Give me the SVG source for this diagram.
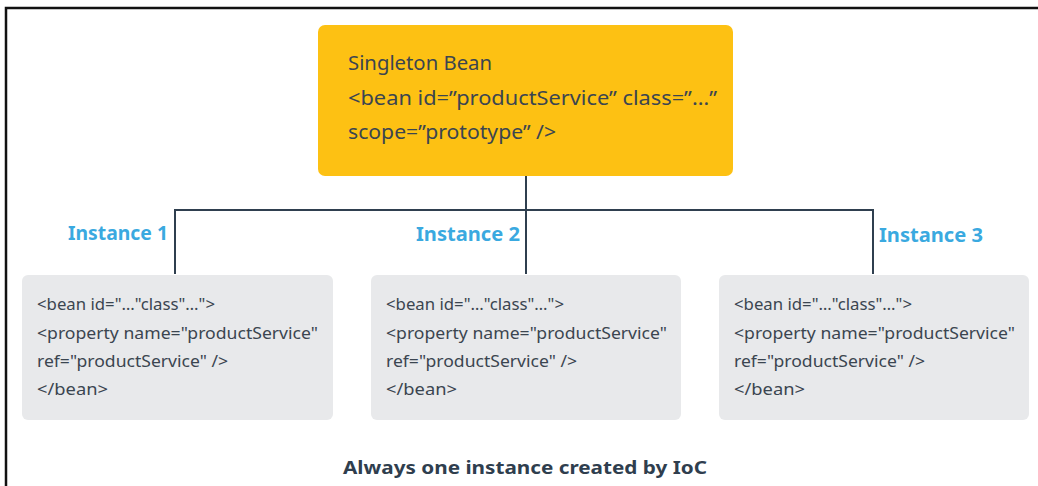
<svg xmlns="http://www.w3.org/2000/svg" width="1038" height="486" viewBox="0 0 1038 486">
<style>
.frame{fill:none;stroke:#111;stroke-width:2.5}
.top{fill:#fdc113}
.inst{fill:#e8e9eb}
.t{font-family:"Noto Sans","Open Sans",sans-serif;fill:#3b4550}
.big{font-size:19.5px}
.small{font-size:15.5px}
.lbl{font-family:"Noto Sans","Open Sans",sans-serif;font-weight:bold;font-size:19px;fill:#3aa9e0}
.cap{font-family:"Noto Sans","Open Sans",sans-serif;font-weight:bold;font-size:18.5px;fill:#2f3e4e}
.conn{fill:none;stroke:#2f3f4f;stroke-width:2}
</style>
<rect width="1038" height="486" fill="#fff"/>
<path class="frame" d="M6,486 V8 H1038"/>
<g id="connectors">
<path class="conn" d="M526,176 V210"/>
<path class="conn" d="M175,274 V210 H873 V274"/>
<path class="conn" d="M526,210 V274"/>
</g>
<g id="singleton">
<rect class="top" x="318" y="25" width="415" height="151" rx="7"/>
<text class="t big" x="348" y="70" textLength="144" lengthAdjust="spacingAndGlyphs">Singleton Bean</text>
<text class="t big" x="348" y="105" textLength="369" lengthAdjust="spacingAndGlyphs">&lt;bean id=”productService” class=”…”</text>
<text class="t big" x="348" y="139" textLength="208" lengthAdjust="spacingAndGlyphs">scope=”prototype” /&gt;</text>
</g>
<g id="instance1">
<text class="lbl" x="68" y="240" textLength="100" lengthAdjust="spacingAndGlyphs">Instance 1</text>
<rect class="inst" x="22" y="275" width="311" height="145" rx="6"/>
<text class="t small" x="37" y="310" textLength="178" lengthAdjust="spacingAndGlyphs">&lt;bean id="…"class"…"&gt;</text>
<text class="t small" x="37" y="339" textLength="281" lengthAdjust="spacingAndGlyphs">&lt;property name="productService"</text>
<text class="t small" x="37" y="367" textLength="191" lengthAdjust="spacingAndGlyphs">ref="productService" /&gt;</text>
<text class="t small" x="37" y="395" textLength="71" lengthAdjust="spacingAndGlyphs">&lt;/bean&gt;</text>
</g>
<g id="instance2">
<text class="lbl" x="416" y="241" textLength="104" lengthAdjust="spacingAndGlyphs">Instance 2</text>
<rect class="inst" x="371" y="275" width="310" height="145" rx="6"/>
<text class="t small" x="386" y="310" textLength="178" lengthAdjust="spacingAndGlyphs">&lt;bean id="…"class"…"&gt;</text>
<text class="t small" x="386" y="339" textLength="281" lengthAdjust="spacingAndGlyphs">&lt;property name="productService"</text>
<text class="t small" x="386" y="367" textLength="191" lengthAdjust="spacingAndGlyphs">ref="productService" /&gt;</text>
<text class="t small" x="386" y="395" textLength="71" lengthAdjust="spacingAndGlyphs">&lt;/bean&gt;</text>
</g>
<g id="instance3">
<text class="lbl" x="879" y="242" textLength="104" lengthAdjust="spacingAndGlyphs">Instance 3</text>
<rect class="inst" x="719" y="275" width="310" height="145" rx="6"/>
<text class="t small" x="734" y="310" textLength="178" lengthAdjust="spacingAndGlyphs">&lt;bean id="…"class"…"&gt;</text>
<text class="t small" x="734" y="339" textLength="281" lengthAdjust="spacingAndGlyphs">&lt;property name="productService"</text>
<text class="t small" x="734" y="367" textLength="191" lengthAdjust="spacingAndGlyphs">ref="productService" /&gt;</text>
<text class="t small" x="734" y="395" textLength="71" lengthAdjust="spacingAndGlyphs">&lt;/bean&gt;</text>
</g>
<g id="caption">
<text class="cap" x="343" y="474" textLength="364" lengthAdjust="spacingAndGlyphs">Always one instance created by IoC</text>
</g>
</svg>
